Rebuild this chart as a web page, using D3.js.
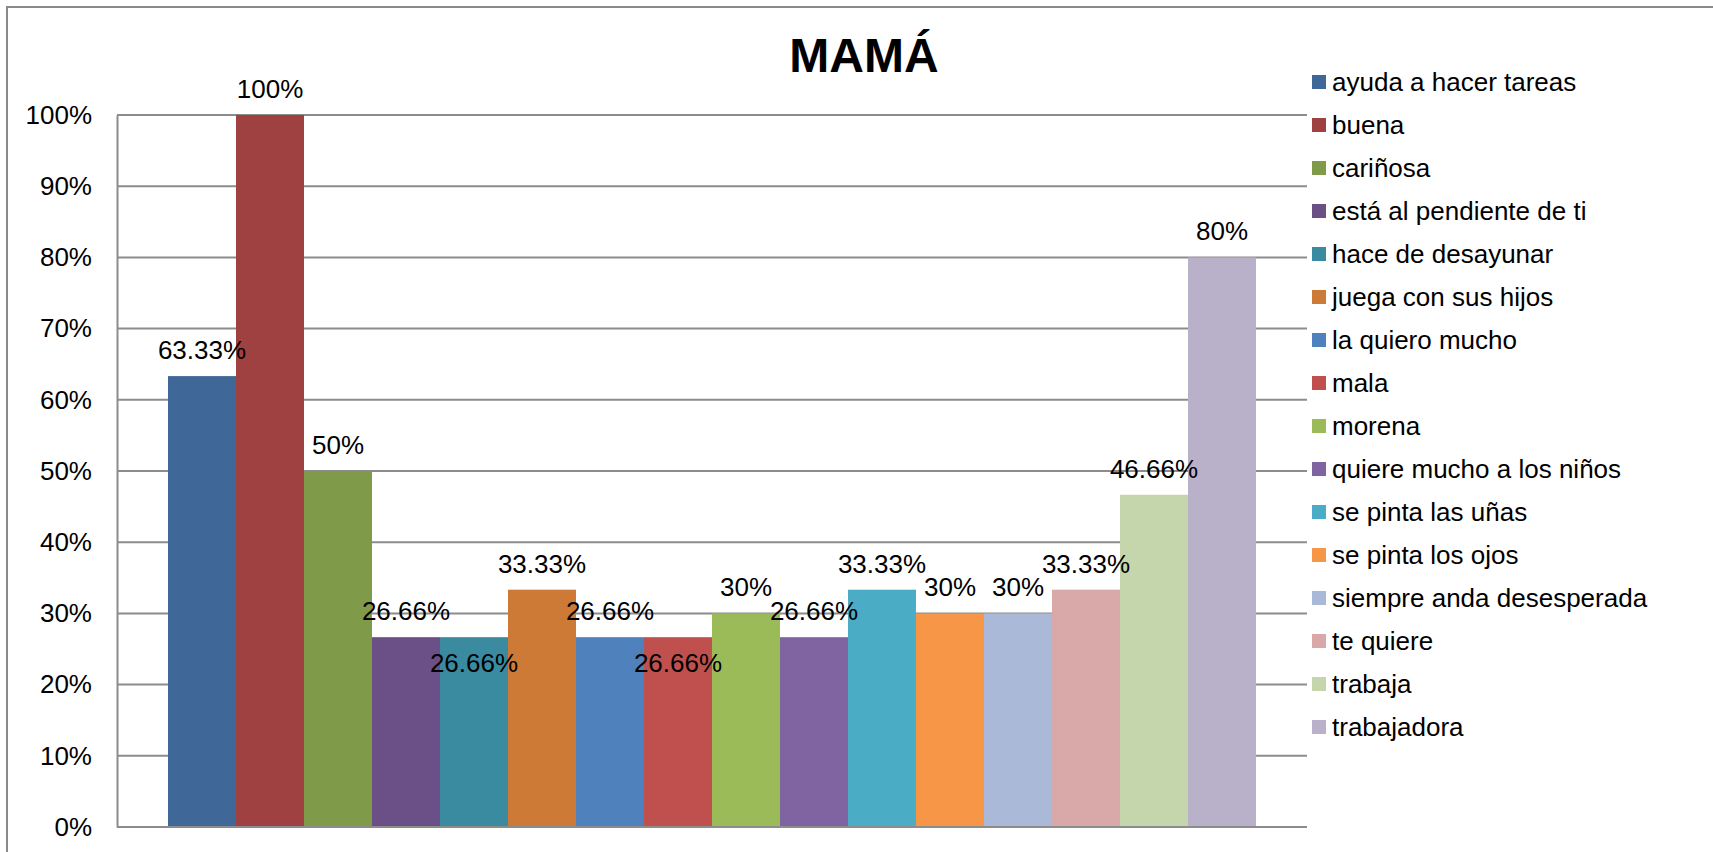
<!DOCTYPE html>
<html>
<head>
<meta charset="utf-8">
<script src="https://cdn.jsdelivr.net/npm/d3@7"></script>
<style>
  body { margin: 0; padding: 0; background: #fff; }
  svg { display: block; font-family: Arial, "Liberation Sans", sans-serif; }
</style>
</head>
<body>
<div id="chart"></div>
<script>
// data
var title = "MAMÁ";
var categories = [
  "ayuda a hacer tareas", "buena", "cariñosa", "está al pendiente de ti",
  "hace de desayunar", "juega con sus hijos", "la quiero mucho", "mala",
  "morena", "quiere mucho a los niños", "se pinta las uñas", "se pinta los ojos",
  "siempre anda desesperada", "te quiere", "trabaja", "trabajadora"
];
var values = [0.6333, 1.00, 0.50, 0.2666, 0.2666, 0.3333, 0.2666, 0.2666,
              0.30, 0.2666, 0.3333, 0.30, 0.30, 0.3333, 0.4666, 0.80];
var valueLabels = ["63.33%", "100%", "50%", "26.66%", "26.66%", "33.33%", "26.66%", "26.66%",
                   "30%", "26.66%", "33.33%", "30%", "30%", "33.33%", "46.66%", "80%"];
var colors = ["#3F6797", "#9E4140", "#7F9A48", "#6A5087", "#3A8BA0", "#CD7A37",
              "#4F81BD", "#C0504D", "#9BBB59", "#8064A2", "#4BACC6", "#F79646",
              "#AAB9D7", "#D9A9A9", "#C5D6AC", "#B9B0C9"];
var yTicks = [0, 0.1, 0.2, 0.3, 0.4, 0.5, 0.6, 0.7, 0.8, 0.9, 1.0];

// labels Excel pushed down into the bar to avoid overlap
var droppedLabels = [4, 7];

var width = 1713, height = 852;
var plot = { left: 117, right: 1307, top: 115, bottom: 827 };

var svg = d3.select("#chart").append("svg")
  .attr("width", width)
  .attr("height", height);

// outer chart frame (runs off right/bottom edge)
svg.append("rect")
  .attr("x", 7).attr("y", 7)
  .attr("width", width + 20).attr("height", height + 20)
  .attr("fill", "#fff")
  .attr("stroke", "#8a8a8a")
  .attr("stroke-width", 2);

var x = d3.scaleBand()
  .domain(categories)
  .range([plot.left, plot.right])
  .paddingInner(0)
  .paddingOuter(0.75);

var y = d3.scaleLinear()
  .domain([0, 1])
  .range([plot.bottom, plot.top]);

// gridlines
svg.append("g").selectAll("line")
  .data(yTicks)
  .enter().append("line")
  .attr("x1", plot.left).attr("x2", plot.right)
  .attr("y1", d => y(d)).attr("y2", d => y(d))
  .attr("stroke", "#8c8c8c")
  .attr("stroke-width", 2);

// y axis
var yAxis = d3.axisLeft(y)
  .tickValues(yTicks)
  .tickFormat(d3.format(".0%"))
  .tickSize(0)
  .tickPadding(25);

var ya = svg.append("g")
  .attr("transform", "translate(" + plot.left + ",0)")
  .call(yAxis);
ya.select(".domain").attr("stroke", "#8c8c8c").attr("stroke-width", 2);
ya.selectAll("text")
  .attr("font-size", 26)
  .attr("fill", "#000")
  .attr("font-family", "Arial, 'Liberation Sans', sans-serif");

// bars
svg.append("g").selectAll("rect")
  .data(values)
  .enter().append("rect")
  .attr("x", (d, i) => x(categories[i]))
  .attr("width", x.bandwidth())
  .attr("y", d => y(d))
  .attr("height", d => y(0) - y(d))
  .attr("fill", (d, i) => colors[i]);

// x axis line on top of bars
svg.append("line")
  .attr("x1", plot.left).attr("x2", plot.right)
  .attr("y1", y(0)).attr("y2", y(0))
  .attr("stroke", "#8c8c8c")
  .attr("stroke-width", 2);

// data labels
svg.append("g").selectAll("text")
  .data(values)
  .enter().append("text")
  .attr("x", (d, i) => x(categories[i]) + x.bandwidth() / 2)
  .attr("y", (d, i) => y(d) - 17 + (droppedLabels.indexOf(i) >= 0 ? 52 : 0))
  .attr("text-anchor", "middle")
  .attr("font-size", 26)
  .attr("fill", "#000")
  .text((d, i) => valueLabels[i]);

// title
svg.append("text")
  .attr("x", 864).attr("y", 72)
  .attr("text-anchor", "middle")
  .attr("font-size", 48)
  .attr("font-weight", "bold")
  .text(title);

// legend
var legend = svg.append("g")
  .attr("transform", "translate(1312,82)")
  .selectAll("g")
  .data(categories)
  .enter().append("g")
  .attr("transform", (d, i) => "translate(0," + (i * 43) + ")");

legend.append("rect")
  .attr("x", 0).attr("y", -7)
  .attr("width", 14).attr("height", 14)
  .attr("fill", (d, i) => colors[i]);

legend.append("text")
  .attr("x", 20).attr("y", 9)
  .attr("font-size", 26)
  .attr("fill", "#000")
  .text(d => d);
</script>
</body>
</html>
